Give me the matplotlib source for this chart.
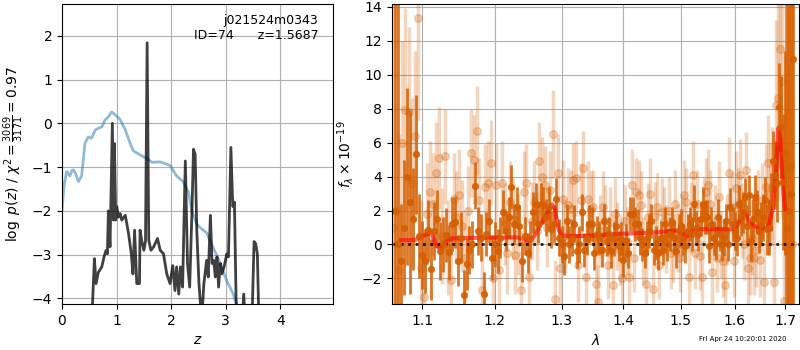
import numpy as np
import matplotlib
matplotlib.use("Agg")
import matplotlib.pyplot as plt
from matplotlib.ticker import FixedLocator, NullLocator, FormatStrFormatter, MultipleLocator

# ---- p(z) panel -------------------------------------------------------
z_pz = [0.53, 0.56, 0.594, 0.624, 0.667, 0.729, 0.77, 0.807, 0.832, 0.85,
        0.88, 0.923, 0.942, 0.96, 0.985, 1.003, 1.034, 1.065, 1.095, 1.16,
        1.22, 1.27, 1.30, 1.33, 1.37, 1.42, 1.43, 1.46, 1.50, 1.53,
        1.56, 1.59, 1.63, 1.68, 1.75, 1.80, 1.86, 1.92, 1.98, 2.03,
        2.07, 2.10, 2.14, 2.17, 2.21, 2.26, 2.30, 2.34, 2.38, 2.41,
        2.44, 2.47, 2.51, 2.56, 2.60, 2.65, 2.68, 2.72, 2.75, 2.78,
        2.81, 2.84, 2.87, 2.90, 2.93, 2.97, 3.02, 3.05, 3.095, 3.13,
        3.16, 3.19, 3.22, 3.30, 3.33, 3.36, 3.48, 3.52, 3.55, 3.58, 3.61]
logpz = [-4.6, -4.1, -3.09, -3.66, -3.4, -3.28, -3.05, -2.9, -2.98, -2.0,
         -2.82, 0.0, -2.21, -0.46, -2.21, -1.9, -2.14, -2.06, -2.21, -2.1,
         -2.52, -2.98, -3.44, -2.44, -3.66, -3.66, -2.44, -2.67, -2.9, -2.7,
         1.84, -2.67, -2.9, -2.82, -2.63, -2.9, -2.98, -3.44, -3.66, -3.25,
         -3.82, -3.28, -3.9, -3.28, -3.74, -0.86, -3.2, -3.74, -2.06, -0.59,
         -0.71, -2.44, -3.66, -4.5, -3.66, -3.13, -3.51, -2.1, -3.2, -3.13,
         -3.51, -3.05, -3.74, -3.2, -3.44, -3.28, -2.98, -3.05, -0.55, -1.9,
         -1.8, -4.0, -4.6, -4.6, -3.9, -4.6, -4.6, -2.7, -2.75, -2.98, -4.6]

z_chi2 = [0.0, 0.04, 0.086, 0.12, 0.147, 0.18, 0.21, 0.25, 0.30, 0.36,
          0.42, 0.48, 0.54, 0.61, 0.67, 0.73, 0.79, 0.85, 0.91, 0.97,
          1.06, 1.16, 1.25, 1.31, 1.43, 1.55, 1.65, 1.80, 1.98, 2.10,
          2.22, 2.32, 2.38, 2.47, 2.53, 2.65, 2.78, 2.90, 3.02, 3.14, 3.25]
chi2_scaled = [-1.98, -1.4, -1.1, -1.15, -1.2, -1.08, -1.06, -1.15, -1.33, -1.2,
               -0.46, -0.31, -0.34, -0.15, -0.11, -0.08, 0.08, 0.15, 0.26, 0.2,
               0.1, -0.15, -0.46, -0.63, -0.72, -0.8, -0.89, -0.88, -0.96, -1.2,
               -1.33, -1.58, -2.0, -2.3, -2.38, -2.5, -2.86, -3.2, -3.6, -3.9, -4.4]

root = "j021524m0343"
obj_id = 74
z_best = 1.5687
chi2_num, chi2_den, chi2_red = 3069, 3171, 0.97
stamp = "Fri Apr 24 10:20:01 2020"

# ---- spectrum panel ---------------------------------------------------
lam_step = 0.004
dark_lam0 = 1.064
light_lam0 = 1.062

dark_a = [2.0, 0.0, -1.0, 1.0, 4.0, 2.5, 1.5, 5.3, 0.5, -0.6]
derr_a = [30, 20, 3.4, 4.0, 5.2, 5.4, 3.0, 3.5, 2.5, 2.0]
dark_b = [-0.96, 0.84, -1.45, 0.8, 1.5, -0.37, 0.0, 0.55, -0.47, 1.2,
          1.3, -0.96, 0.41, -3.0, -1.16, -0.33, 0.0, 3.46, 0.8, 0.41,
          -2.93, 0.6, 1.4, -0.77, 0.0]
derr_b = [1.9, 1.8, 1.8, 1.7, 1.7, 1.7, 1.6, 1.6, 1.6, 1.6,
          1.5, 1.5, 1.5, 1.5, 1.5, 1.4, 1.4, 1.4, 1.4, 1.4,
          1.3, 1.3, 1.3, 1.3, 1.3]
dark_c = [-0.4, 0.4, 1.9, 0.8, 1.6, 3.4, 1.2, 2.2, 1.1, -1.0,
          0.5, -0.5, 0.3, 1.9, 2.4, 1.2, 2.4, 2.3, 1.6, 2.2,
          0.9, 1.2, 2.7, 0.4, 0.0, -0.7, 1.4, 0.0, 0.4, 1.2,
          -0.4, 0.0, 1.9, -0.3, 0.4, 1.2]
derr_c = [1.3, 1.2, 1.3, 1.2, 1.2, 1.3, 1.2, 1.2, 1.2, 1.2,
          1.1, 1.2, 1.1, 1.2, 1.2, 1.1, 1.2, 1.1, 1.1, 1.2,
          1.1, 1.1, 1.2, 1.1, 1.1, 1.1, 1.0, 1.1, 1.1, 1.1,
          1.0, 1.1, 1.1, 1.0, 1.0, 1.1]
dark_d = [1.2, -0.5, 0.6, 0.4, -0.3, 1.4, 0.2, 0.6, -0.4, 0.3,
          1.1, -0.1, 0.3, -0.9, 0.2, -0.5, 1.8, 1.8, 1.2, 1.2,
          0.4, 0.0, -0.5, 0.4, 0.8, 1.4, -0.3, 0.1, -0.5, 0.4,
          -0.3, 1.2, 0.0, 0.6, 1.3, 0.4, -0.4, 0.8, 1.1, 0.3,
          -0.1, 0.8, 1.2, 0.6, 2.4, 1.0]
derr_d = [1.0, 1.0, 1.1, 1.0, 1.0, 1.0, 0.9, 1.0, 1.0, 1.0,
          1.0, 0.9, 1.0, 1.0, 1.0, 0.9, 1.0, 1.0, 1.0, 0.9,
          1.0, 1.0, 0.9, 1.0, 1.0, 1.0, 0.9, 1.0, 1.0, 1.0,
          0.9, 1.0, 1.0, 1.0, 0.9, 1.0, 1.0, 1.0, 1.0, 0.9,
          1.0, 1.0, 1.0, 1.0, 1.1, 1.0]
dark_e = [0.6, 1.5, 2.4, 1.6, 1.6, -0.1, 1.2, 0.4, 0.1, 1.6,
          0.6, 0.0, 0.4, 1.4, 0.0, 2.2, 1.2, 0.8, 0.4, 2.4,
          1.6, 1.9, 2.8, 1.1, 2.9, 0.2, 1.5, 2.8, 1.9, 0.8,
          1.2, 1.6, 2.6, 0.9, 1.0, 2.5, 4.9, 4.1, 3.6, 8.1,
          6.9, 3.7, 5.4, 1.0, 2.0, 3.0, 10.9]
derr_e = [1.0, 1.0, 1.0, 1.0, 1.0, 1.0, 1.0, 1.0, 1.0, 1.1,
          1.0, 1.0, 1.1, 1.0, 1.0, 1.1, 1.0, 1.1, 1.1, 1.1,
          1.1, 1.2, 1.1, 1.2, 1.2, 1.2, 1.2, 1.3, 1.3, 1.3,
          1.3, 1.4, 1.4, 1.5, 1.6, 1.7, 1.8, 2.0, 2.3, 2.6,
          3.0, 4.0, 6.0, 20, 20, 30, 30]

light_a = [1.0, 2.0, -1.5, 6.0, 7.9, 7.8, 3.6, 6.4, 13.3, -1.4,
           -3.1, 1.8, 3.1, 2.4, 4.2, 5.1, 0.5, 5.2, -0.2, -2.1,
           2.7, 1.6, 2.9, 1.1, -0.8, 2.0, 5.4, 5.0, 6.7, 2.6,
           -2.7, 3.4, 3.6, 4.8, -2.0]
lerr_a = [20, 15, 8, 6, 6, 5, 5, 5, 6, 4,
          3.5, 3.0, 3.0, 3.0, 3.0, 3.0, 2.8, 2.8, 2.8, 2.8,
          2.7, 2.7, 2.7, 2.7, 2.6, 2.6, 2.6, 2.6, 2.6, 2.5,
          2.5, 2.5, 2.5, 2.5, 2.5]
light_b = [3.5, -1.5, 3.6, 1.2, -0.5, 2.5, 1.5, -0.6, 0.6, -2.7,
           3.1, 3.6, -1.9, 1.4, 2.5, 0.8, 4.9, 4.0, 3.5, 1.0,
           3.2, 6.5, -3.2, 4.2, -1.4, 2.7, 0.5, 2.3, 2.1, 3.8,
           3.9, -1.2, 2.6, 4.5, -1.9, 2.7, 2.1]
lerr_b = [2.5, 2.4, 2.5, 2.4, 2.4, 2.4, 2.4, 2.3, 2.4, 2.3,
          2.4, 2.3, 2.3, 2.3, 2.4, 2.3, 2.3, 2.3, 2.3, 2.3,
          2.3, 2.6, 2.3, 2.3, 2.2, 2.3, 2.2, 2.2, 2.3, 2.2,
          2.2, 2.2, 2.2, 2.2, 2.2, 2.2, 2.2]
light_c = [2.2, -2.3, -3.4, 0.8, 2.2, 1.4, -1.2, 1.3, -2.4, 1.8,
           0.5, -0.3, -2.0, 1.4, 0.2, -1.9, 3.5, -0.8, 3.1, 2.9,
           2.3, -0.4, -2.3, 1.6, 3.0, -2.6, 1.7, 2.2, -1.2, 1.9,
           1.4, 0.3, 2.0, -0.5, -0.2, 2.4, 0.4, -0.8, 1.0, 2.9,
           2.5, -1.9, 1.6, 4.1, -0.5]
lerr_c = [2.2, 2.1, 2.2, 2.1, 2.1, 2.1, 2.0, 2.1, 2.1, 2.1,
          2.0, 2.1, 2.0, 2.1, 2.0, 2.0, 2.1, 2.0, 2.0, 2.1,
          2.0, 2.0, 2.0, 2.0, 2.1, 2.0, 2.0, 2.0, 2.0, 2.0,
          2.0, 2.0, 2.0, 2.1, 2.0, 2.0, 2.0, 2.0, 2.0, 2.1,
          2.0, 2.0, 2.1, 2.0, 2.1]
light_d = [2.4, -0.7, -1.9, 1.9, 3.1, 3.5, 2.4, -1.6, 1.4, -0.8,
           2.8, 0.0, -1.0, -2.4, 0.9, 4.2, 2.2, -1.0, 3.3, 2.4,
           4.1, 1.4, 0.0, 4.4, -1.4, -0.8, 0.4, -0.8, -0.3, 2.2,
           -0.9, 2.6, -2.2, 3.4, 4.8, 3.0, 3.4, -2.2, 8.2, 8.6,
           11.5, 9.6, -3.3, 5.2, -0.3, 4.6, 0.0]
lerr_d = [2.0, 2.0, 2.1, 2.0, 2.0, 2.1, 2.0, 2.0, 2.1, 2.0,
          2.1, 2.0, 2.1, 2.1, 2.1, 2.1, 2.1, 2.1, 2.2, 2.1,
          2.1, 2.2, 2.1, 2.2, 2.2, 2.2, 2.2, 2.2, 2.2, 2.2,
          2.2, 2.2, 2.3, 2.5, 2.8, 3.0, 3.5, 4.0, 5.0, 6.0,
          7.0, 8.0, 10, 12, 15, 20, 25]

model_lam = [1.0722, 1.0904, 1.1036, 1.1124, 1.1181, 1.1250, 1.1327, 1.1418,
             1.180, 1.2323, 1.2497, 1.2573, 1.2725, 1.2852, 1.289, 1.2955,
             1.3007, 1.3350, 1.3894, 1.4467, 1.4936, 1.4996, 1.5103, 1.5207,
             1.530, 1.5992, 1.606, 1.6196, 1.628, 1.6414, 1.6546, 1.6659,
             1.6748, 1.6815, 1.6862, 1.6903, 1.6952, 1.6999]
model_flux = [0.26, 0.26, 0.56, 0.7, -0.04, -0.24, 0.26, 0.36,
              0.4, 0.42, 0.22, 0.46, 1.46, 2.36, 2.16, 0.86,
              0.5, 0.5, 0.62, 0.7, 0.82, 0.76, 0.46, 0.82,
              0.9, 0.9, 1.16, 1.9, 1.36, 1.02, 0.94, 1.06,
              2.06, 4.26, 6.86, 6.06, 3.46, 2.06]

G141_COLOR = (0.8352941176470589, 0.3686274509803922, 0.0)

dark_flux = np.array(dark_a + dark_b + dark_c + dark_d + dark_e)
dark_err = np.array(derr_a + derr_b + derr_c + derr_d + derr_e)
light_flux = np.array(light_a + light_b + light_c + light_d)
light_err = np.array(lerr_a + lerr_b + lerr_c + lerr_d)
dark_lam = dark_lam0 + lam_step * np.arange(len(dark_flux))
light_lam = light_lam0 + lam_step * np.arange(len(light_flux))

fig = plt.figure(figsize=(8, 3.5), dpi=100)

# left: p(z)
ax = fig.add_axes([0.0775, 0.131, 0.339, 0.858])
ax.plot(z_chi2, chi2_scaled, color='tab:blue', alpha=0.5, lw=2)
ax.plot(z_pz, logpz, color='k', alpha=0.75, lw=2)
ax.set_xlim(0, 4.97)
ax.set_ylim(-4.13, 2.73)
ax.xaxis.set_major_locator(MultipleLocator(1))
ax.set_xlabel(r'$z$')
ax.set_ylabel(r'$\log\ p(z)$' + ' / ' +
              r'$\chi^2=\frac{%d}{%d}=%.2f$' % (chi2_num, chi2_den, chi2_red))
ax.grid()
ax.text(0.945, 0.965, '{0}\nID={1}      z={2:.4f}'.format(root, obj_id, z_best),
        ha='right', va='top', transform=ax.transAxes, fontsize=9)

# right: spectrum
ax2 = fig.add_axes([0.4896, 0.131, 0.5094, 0.858])
ax2.errorbar(light_lam, light_flux, light_err, marker='o', ms=5.5,
             linestyle='None', color=G141_COLOR, alpha=0.26, elinewidth=2.5)
ax2.errorbar(dark_lam, dark_flux, dark_err, marker='o', ms=4.2,
             linestyle='None', color=G141_COLOR, alpha=0.85, elinewidth=2)
ax2.plot(model_lam, model_flux, color='r', alpha=0.6, lw=3)
ax2.plot([min(light_lam.min(), dark_lam.min()), 1.728], [0, 0],
         color='k', linestyle=':', lw=2, alpha=0.85)
ax2.set_xscale('log')
ax2.set_xlim(1.0603, 1.7288)
ax2.set_ylim(-3.51, 14.16)
ax2.xaxis.set_major_locator(FixedLocator([1.1, 1.2, 1.3, 1.4, 1.5, 1.6, 1.7]))
ax2.xaxis.set_minor_locator(NullLocator())
ax2.xaxis.set_major_formatter(FormatStrFormatter('%.1f'))
ax2.set_xlabel(r'$\lambda$')
ax2.set_ylabel(r'$f_\lambda\times10^{-19}$')
ax2.grid()

fig.text(0.983, 0.022, stamp, ha='right', va='bottom', fontsize=5)

fig.savefig('out.png', dpi=100)
